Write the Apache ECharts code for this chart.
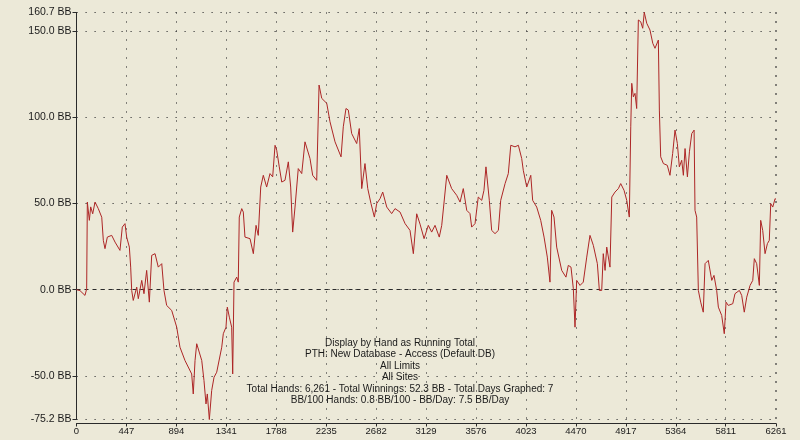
<!DOCTYPE html>
<html>
<head>
<meta charset="utf-8">
<script src="https://cdn.jsdelivr.net/npm/echarts@6/dist/echarts.min.js"></script>
<style>
html,body{margin:0;padding:0;background:#ECE9D8;}
#chart{width:800px;height:440px;}
</style>
</head>
<body>
<div id="chart"></div>
<script>
// Hand number (x) and running total in BB (y)
const hands = [0,2,31,76,91,97,115,127,145,166,195,226,240,255,276,315,345,389,410,434,449,473,485,494,508,539,553,584,604,628,652,673,703,732,763,783,807,852,897,926,971,1031,1045,1061,1076,1121,1141,1159,1171,1189,1210,1231,1255,1300,1314,1338,1350,1368,1389,1398,1410,1434,1448,1457,1479,1493,1508,1553,1583,1607,1627,1649,1672,1702,1732,1756,1777,1792,1815,1837,1866,1896,1917,1935,1956,1985,2016,2045,2090,2114,2150,2171,2195,2240,2269,2314,2368,2388,2412,2433,2463,2508,2531,2553,2582,2607,2636,2666,2687,2717,2741,2777,2821,2851,2896,2941,2985,3015,3045,3075,3111,3149,3179,3209,3247,3269,3314,3358,3403,3433,3462,3493,3522,3537,3567,3596,3627,3647,3665,3695,3716,3746,3776,3797,3836,3865,3887,3925,3955,3985,3999,4030,4066,4083,4119,4155,4185,4214,4238,4253,4274,4298,4343,4381,4402,4426,4447,4462,4477,4507,4536,4567,4596,4626,4662,4680,4701,4715,4731,4746,4775,4791,4820,4850,4871,4901,4925,4948,4961,4970,4984,4999,5014,5029,5050,5068,5082,5104,5133,5158,5178,5208,5217,5229,5253,5288,5312,5336,5357,5378,5396,5417,5432,5447,5468,5486,5507,5528,5536,5551,5566,5587,5610,5626,5655,5686,5706,5730,5745,5775,5798,5814,5834,5874,5894,5933,5954,5977,5999,6029,6053,6067,6088,6103,6112,6124,6142,6163,6184,6201,6214,6232,6253,6261];
const runningBB = [0,0.5,-0.5,-3.3,0.5,50.8,40.2,48,44,50.8,47,42,28.6,23.8,30.5,31.5,27.6,22.8,36.3,38.3,30.5,24.7,13.1,-0.4,-6.2,1.5,-5.2,5.4,-2.3,11.2,-7.2,19.9,20.9,13.1,15.1,-0.4,-9.1,-12,-21.7,-33.3,-41,-48.8,-60.4,-41,-31.3,-41,-52.6,-66.2,-60.4,-75.2,-58.4,-50.7,-47.8,-33.3,-25.5,-21.7,-10.1,-15.9,-21.7,-48.8,4.4,7.3,4.4,42.1,47,45,30.5,29.6,20.9,37.3,31.5,59.5,66.3,59.5,67.3,65.4,83.7,80.8,71.2,62.4,63.4,74.1,59.5,33.4,47.9,70.2,67.3,85.7,76,66.3,63.4,118.6,110.9,108,97.3,85.7,77,94.4,105,104.1,90.5,84.7,93.4,58.6,73.1,58.6,49.9,42.1,49.9,52.8,56.6,47.9,44.1,47,45,38.3,34.4,20.9,44,38,29.6,37.3,33.4,37.3,30.5,37.3,66.3,58.6,54.7,50.8,58.6,46,44.1,36.3,38.3,53.7,51.8,57.6,71.2,51.8,34.4,32.5,34.4,51.8,61.5,67.3,83.7,82.8,83.7,76,69.2,59.5,66.3,51.8,47.9,40.2,30.5,18.9,4.4,46,42.1,24.7,11.2,7.3,14.1,13.1,0.6,-21.7,5.4,2.5,4.4,18.9,31.5,25.7,15.1,-0.4,-0.4,20.9,11.2,24.7,13.1,53.7,56.6,58.6,61.5,57.6,51.8,42.1,94.4,119.6,111.8,113.8,105,156.3,155.3,151.5,160.7,154.4,150.5,142.8,139.9,144.7,104.1,77,73.1,72.1,66.3,78.9,92.5,84.7,71.2,75,66.3,81.8,65.4,79.9,90.5,92.5,46,42.1,-0.4,-7.2,-13,15.1,17,5.4,8.3,-0.4,-10.1,-14.9,-25.5,-7.2,-9.1,-8.1,-2.3,-0.4,-3.3,-13,-4.3,2.5,5.4,18,15.1,16,2.5,40.2,34.4,20.9,26.7,28.6,49.9,47.9,52.8,52.3];

const yTickValues = [-75.2, -50, 0, 50, 100, 150, 160.7];
const xMax = 6261;
const xInterval = 447;

const infoLines = [
  'Display by Hand as Running Total',
  'PTH: New Database - Access (Default DB)',
  'All Limits',
  'All Sites',
  'Total Hands: 6,261 - Total Winnings: 52.3 BB - Total Days Graphed: 7',
  'BB/100 Hands: 0.8 BB/100 - BB/Day: 7.5 BB/Day'
];

const FONT = '"Liberation Sans", Arial, sans-serif';
const chart = echarts.init(document.getElementById('chart'), null, {renderer: 'canvas'});

const seriesData = hands.map((h, i) => [h, runningBB[i]]);

chart.setOption({
  backgroundColor: '#ECE9D8',
  animation: false,
  grid: {left: 76.5, right: 24, top: 12.4, bottom: 20.5, containLabel: false},
  xAxis: {
    type: 'value',
    min: 0,
    max: xMax,
    interval: xInterval,
    offset: 4,
    axisLine: {show: true, onZero: false, lineStyle: {color: '#2a2a2a', width: 1}},
    axisTick: {show: true, length: 3, lineStyle: {color: '#2a2a2a'}},
    axisLabel: {color: '#1a1a1a', fontSize: 9.5, fontFamily: FONT, margin: 3, showMaxLabel: true, showMinLabel: true,
      formatter: v => String(Math.round(v))},
    splitLine: {show: true, lineStyle: {color: '#3a3a3a', width: 1, type: [1.2, 7.8]}}
  },
  yAxis: {
    type: 'value',
    min: -75.2,
    max: 160.7,
    axisLine: {show: true, lineStyle: {color: '#2a2a2a', width: 1}},
    axisTick: {show: true, length: 4, customValues: yTickValues, lineStyle: {color: '#2a2a2a'}},
    axisLabel: {
      customValues: yTickValues,
      color: '#1a1a1a', fontSize: 10.5, fontFamily: FONT, margin: 5,
      formatter: v => v.toFixed(1) + ' BB'
    },
    splitLine: {show: true, lineStyle: {color: '#3a3a3a', width: 1, type: [1.2, 7.8]}}
  },
  series: [{
    type: 'line',
    data: seriesData,
    showSymbol: false,
    symbol: 'none',
    sampling: null,
    lineStyle: {color: '#ad2626', width: 1},
    z: 3,
    markLine: {
      silent: true,
      symbol: 'none',
      label: {show: false},
      lineStyle: {color: '#2a2a2a', width: 1, type: [4, 4]},
      data: [{yAxis: 0}],
      z: 1
    }
  }],
  graphic: infoLines.map((t, i) => ({
    type: 'text',
    left: 'center',
    top: 338 + i * 11.5,
    style: {text: t, fill: '#1a1a1a', font: '10px ' + FONT, textAlign: 'center'},
    z: 10
  }))
});
</script>
</body>
</html>
